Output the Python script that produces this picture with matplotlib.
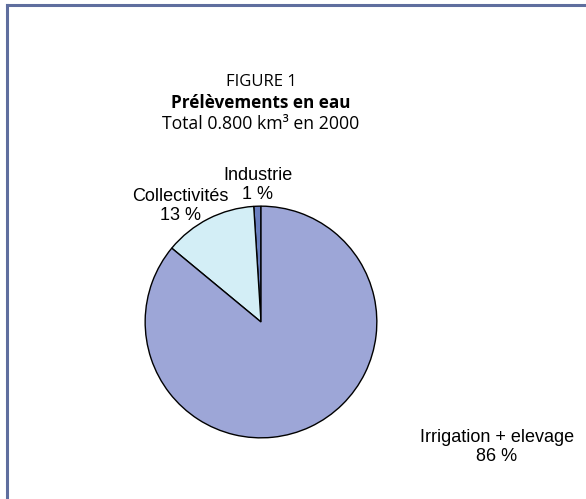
import matplotlib
matplotlib.use("Agg")
import matplotlib.pyplot as plt
from matplotlib.lines import Line2D

categories = ["Industrie", "Collectivités", "Irrigation + elevage"]
values = [1, 13, 86]
pct_labels = ["1 %", "13 %", "86 %"]
colors = ["#6A7FC0", "#D3EEF6", "#9DA6D7"]

W, H = 586, 499
fig = plt.figure(figsize=(W / 100, H / 100), dpi=100)
fig.patch.set_facecolor("white")

# frame (top and left borders visible)
border = "#5F6E9E"
fig.add_artist(Line2D([7 / W, 1.0], [1 - 5 / H, 1 - 5 / H], color=border, lw=2.2))
fig.add_artist(Line2D([7 / W, 7 / W], [1 - 5 / H, 0.0], color=border, lw=2.2))

cx, cy, r = 261, 322, 117
ax = fig.add_axes([(cx - r) / W, (H - cy - r) / H, 2 * r / W, 2 * r / H])
ax.pie(values, colors=colors, startangle=90, counterclock=True, radius=1,
       wedgeprops=dict(edgecolor="black", linewidth=1.0))
ax.set_xlim(-1.01, 1.01)
ax.set_ylim(-1.01, 1.01)
ax.set_aspect("equal")
ax.axis("off")

tfont = ["Open Sans", "DejaVu Sans"]
fig.text(261 / W, 1 - 82 / H, "FIGURE 1", ha="center", va="center", fontsize=12, family=tfont)
fig.text(261 / W, 1 - 103 / H, "Prélèvements en eau", ha="center", va="center", fontsize=12.3,
         fontweight="bold", family=tfont)
fig.text(261 / W, 1 - 124 / H, "Total 0.800 km³ en 2000", ha="center", va="center", fontsize=12.7,
         family=tfont)

lfont = ["Liberation Sans", "DejaVu Sans"]
label_pos = [(258, 185), (180, 206), (497, 447)]
for (x, y), cat, p in zip(label_pos, categories, pct_labels):
    fig.text(x / W, 1 - y / H, f"{cat}\n{p}", ha="center", va="center", fontsize=13,
             family=lfont, linespacing=1.12)

fig.savefig("out.png", dpi=100, facecolor="white")
